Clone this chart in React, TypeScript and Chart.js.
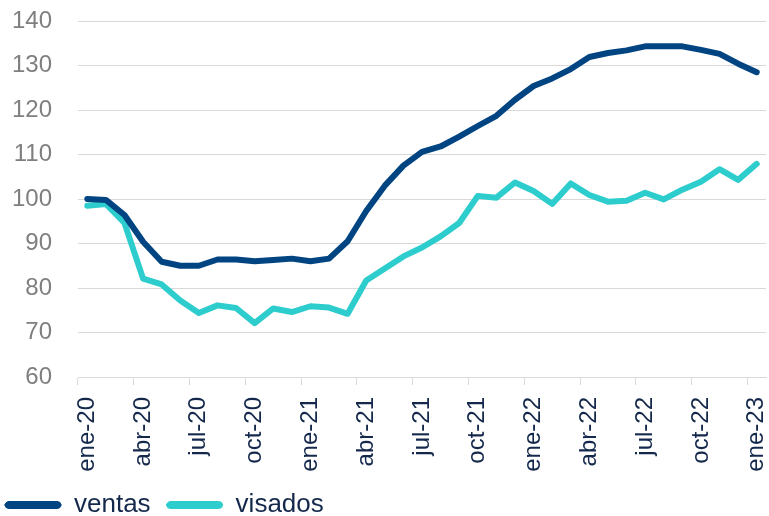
import React, { useEffect, useRef } from 'react';
import { Chart, registerables } from 'chart.js';

Chart.register(...registerables);

const months: string[] = [
  'ene-20', 'feb-20', 'mar-20', 'abr-20', 'may-20', 'jun-20', 'jul-20', 'ago-20', 'sep-20', 'oct-20', 'nov-20', 'dic-20',
  'ene-21', 'feb-21', 'mar-21', 'abr-21', 'may-21', 'jun-21', 'jul-21', 'ago-21', 'sep-21', 'oct-21', 'nov-21', 'dic-21',
  'ene-22', 'feb-22', 'mar-22', 'abr-22', 'may-22', 'jun-22', 'jul-22', 'ago-22', 'sep-22', 'oct-22', 'nov-22', 'dic-22',
  'ene-23',
];

const ventas: number[] = [
  100.0, 99.8, 96.4, 90.4, 85.9, 85.0, 85.0, 86.4, 86.4, 86.0, 86.3, 86.6,
  86.0, 86.6, 90.5, 97.3, 103.0, 107.5, 110.6, 111.8, 114.0, 116.4, 118.7, 122.3,
  125.4, 127.1, 129.2, 131.9, 132.8, 133.4, 134.3, 134.3, 134.3, 133.5, 132.6, 130.4,
  128.5,
];

const visados: number[] = [
  98.5, 98.9, 94.6, 82.1, 80.8, 77.2, 74.4, 76.1, 75.5, 72.1, 75.4, 74.6,
  75.9, 75.6, 74.2, 81.7, 84.4, 87.1, 89.1, 91.6, 94.6, 100.7, 100.3, 103.7,
  101.8, 98.9, 103.5, 100.9, 99.4, 99.6, 101.4, 99.9, 102.1, 103.9, 106.7, 104.3,
  107.9,
];

const seriesNames: string[] = ['ventas', 'visados'];
const seriesColors: string[] = ['#004481', '#2DCCCD'];

const FONT = '"Liberation Sans", Arial, sans-serif';

export default function App() {
  const canvasRef = useRef<HTMLCanvasElement | null>(null);

  useEffect(() => {
    document.body.style.margin = '0';
    const canvas = canvasRef.current;
    if (!canvas) return;
    const chart = new Chart(canvas, {
      type: 'line',
      data: {
        labels: months,
        datasets: [
          {
            label: seriesNames[0],
            data: ventas,
            borderColor: seriesColors[0],
            backgroundColor: seriesColors[0],
            borderWidth: 6,
            pointRadius: 0,
            borderCapStyle: 'round',
            borderJoinStyle: 'round',
            tension: 0,
          },
          {
            label: seriesNames[1],
            data: visados,
            borderColor: seriesColors[1],
            backgroundColor: seriesColors[1],
            borderWidth: 6,
            pointRadius: 0,
            borderCapStyle: 'round',
            borderJoinStyle: 'round',
            tension: 0,
          },
        ],
      },
      options: {
        animation: false,
        responsive: false,
        maintainAspectRatio: false,
        layout: { padding: { left: -11, right: 3, top: 21, bottom: -12 } },
        plugins: {
          tooltip: { enabled: false },
          legend: {
            position: 'bottom',
            align: 'start',
            labels: {
              boxWidth: 56,
              boxHeight: 7,
              padding: 16,
              useBorderRadius: true,
              borderRadius: 4,
              color: '#14284b',
              font: { family: FONT, size: 26 },
              generateLabels: (ch: any) => {
                const items = Chart.defaults.plugins.legend.labels.generateLabels(ch);
                return items.map((it: any, i: number) => ({
                  ...it,
                  fillStyle: seriesColors[i],
                  strokeStyle: seriesColors[i],
                  lineWidth: 1,
                  lineCap: 'round',
                }));
              },
            },
          },
        },
        scales: {
          x: {
            offset: true,
            afterFit: (scale: any) => {
              scale.height = 99;
              scale.paddingRight = 0;
              scale.paddingLeft = 0;
            },
            border: { display: true, color: '#d9d9d9', width: 1 },
            grid: {
              offset: true,
              drawOnChartArea: false,
              drawTicks: true,
              tickLength: 18,
              tickBorderDash: [7, 60],
              color: (ctx: any) => (ctx.index % 3 === 0 ? '#d9d9d9' : 'rgba(0,0,0,0)'),
            },
            ticks: {
              autoSkip: false,
              maxRotation: 90,
              minRotation: 90,
              padding: 2,
              color: '#14284b',
              font: { family: FONT, size: 24 },
              callback: (_v: any, index: number) => (index % 3 === 0 ? months[index] : ''),
            },
          },
          y: {
            min: 60,
            max: 140,
            afterFit: (scale: any) => {
              scale.width = 89;
            },
            border: { display: false },
            grid: {
              color: '#d9d9d9',
              drawTicks: true,
              tickLength: 26,
              tickColor: 'rgba(0,0,0,0)',
              lineWidth: 1,
            },
            ticks: {
              stepSize: 10,
              padding: 0,
              color: '#7f7f7f',
              font: { family: FONT, size: 24 },
            },
          },
        },
      },
    });
    return () => chart.destroy();
  }, []);

  return (
    <div style={{ position: 'fixed', left: 0, top: 0, width: 769, height: 516, background: '#ffffff' }}>
      <canvas ref={canvasRef} width={769} height={516} style={{ display: 'block', width: 769, height: 516 }} />
    </div>
  );
}
